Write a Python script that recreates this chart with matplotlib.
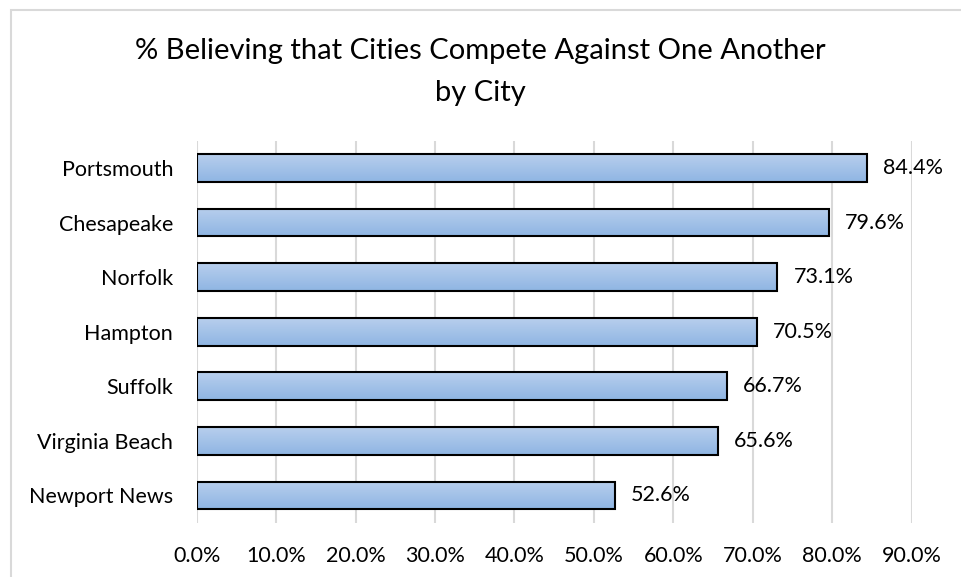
import matplotlib
matplotlib.use("Agg")
import matplotlib.pyplot as plt
import numpy as np
from matplotlib.patches import Rectangle

cities = ["Portsmouth", "Chesapeake", "Norfolk", "Hampton", "Suffolk",
          "Virginia Beach", "Newport News"]
values = [84.4, 79.6, 73.1, 70.5, 66.7, 65.6, 52.6]
xticks = [0, 10, 20, 30, 40, 50, 60, 70, 80, 90]
title_lines = ["% Believing that Cities Compete Against One Another", "by City"]

plt.rcParams['font.family'] = ['Lato', 'DejaVu Sans']

fig = plt.figure(figsize=(9.61, 5.77), dpi=100)
fig.patch.set_facecolor("white")

# chart border (top and left visible)
fig.patches.append(Rectangle((11 / 961, -0.1), 2.0, 1.1 - 10 / 577,
                             transform=fig.transFigure, fill=False,
                             edgecolor="#d9d9d9", linewidth=1.5))

ax = fig.add_axes([196.7 / 961, (577 - 522.7) / 577,
                   (911.7 - 196.7) / 961, (522.7 - 140.7) / 577])

y = np.arange(len(cities))
bars = ax.barh(y, values, height=0.507, facecolor="none",
               edgecolor="black", linewidth=1.5, zorder=3)

grad = np.linspace(0, 1, 100).reshape(-1, 1)
top = np.array([0.72, 0.81, 0.93])
bot = np.array([0.56, 0.71, 0.89])
img = top[None, None, :] * (1 - grad[:, :, None]) + bot[None, None, :] * grad[:, :, None]
for b in bars:
    x0, y0, w, h = b.get_x(), b.get_y(), b.get_width(), b.get_height()
    im = ax.imshow(img, extent=(x0, x0 + w, y0 + h, y0), aspect="auto",
                   zorder=2, interpolation="bilinear")
    im.set_clip_path(b)

for b, v in zip(bars, values):
    ax.annotate(f"{v:.1f}%", (b.get_width(), b.get_y() + b.get_height() / 2),
                xytext=(11.5, 0), textcoords="offset points",
                ha="left", va="center", fontsize=15.5, color="#000000")

ax.set_xlim(0, 90)
ax.set_ylim(6.5, -0.5)
ax.set_xticks(xticks)
ax.set_xticklabels([f"{t:.1f}%" for t in xticks], fontsize=15.5)
ax.set_yticks(y)
ax.set_yticklabels(cities, fontsize=15.5)
ax.tick_params(axis="both", length=0)
ax.tick_params(axis="y", pad=17)
ax.tick_params(axis="x", pad=17)
for s in ax.spines.values():
    s.set_visible(False)
ax.grid(axis="x", color="#d9d9d9", linewidth=1.5, zorder=0)
ax.set_axisbelow(True)

fig.text(480 / 961, 1 - 59 / 577, title_lines[0], ha="center", va="baseline",
         fontsize=21)
fig.text(480 / 961, 1 - 101.5 / 577, title_lines[1], ha="center", va="baseline",
         fontsize=21)

fig.savefig("out.png", dpi=100, facecolor="white")
